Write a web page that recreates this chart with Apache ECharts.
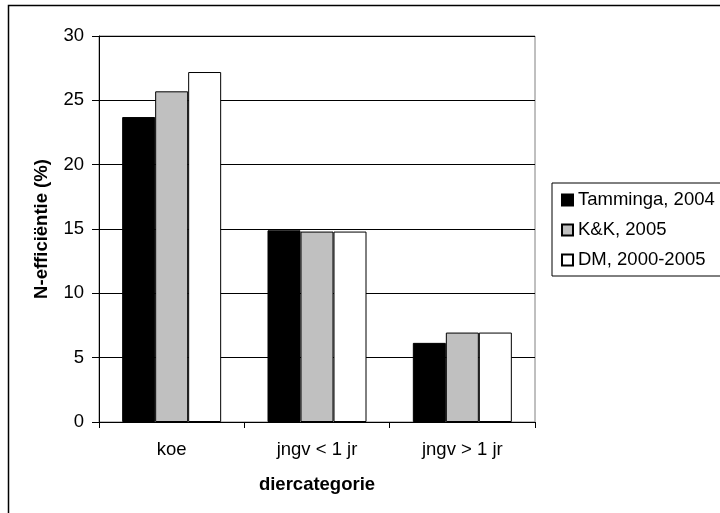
<!DOCTYPE html>
<html>
<head>
<meta charset="utf-8">
<script src="https://cdn.jsdelivr.net/npm/echarts@6/dist/echarts.min.js"></script>
<style>html,body{margin:0;padding:0;background:#fff}#c{width:720px;height:513px}</style>
</head>
<body>
<div id="c"></div>
<script>
const categories = ['koe', 'jngv < 1 jr', 'jngv > 1 jr'];
const seriesNames = ['Tamminga, 2004', 'K&K, 2005', 'DM, 2000-2005'];
const tamminga = [23.7, 14.9, 6.15];
const kk = [25.7, 14.8, 6.95];
const dm = [27.2, 14.8, 6.95];
const yTicks = { min: 0, max: 30, interval: 5 };
const yTitle = 'N-efficiëntie (%)';
const xTitle = 'diercategorie';

const FONT = 'Liberation Sans, Arial, sans-serif';
const FS = 18.5;
const colors = ['#000000', '#C0C0C0', '#FFFFFF'];
const values = [tamminga, kk, dm];

const chart = echarts.init(document.getElementById('c'), null, { renderer: 'canvas' });
chart.setOption({
  animation: false,
  backgroundColor: '#fff',
  textStyle: { fontFamily: FONT, color: '#000' },
  grid: { left: 99, top: 36, width: 436, height: 386, show: true, borderColor: '#808080', borderWidth: 1, backgroundColor: 'transparent' },
  legend: {
    orient: 'vertical', left: 552, top: 183,
    itemWidth: 11, itemHeight: 11, itemGap: 10,
    padding: [7, 30, 6, 9],
    borderColor: '#000', borderWidth: 1,
    icon: 'rect',
    textStyle: { fontFamily: FONT, fontSize: FS, color: '#000', lineHeight: 20 },
    data: seriesNames
  },
  xAxis: {
    type: 'category', data: categories,
    axisLine: { lineStyle: { color: '#000', width: 1 } },
    axisTick: { show: true, length: 6, lineStyle: { color: '#000' }, alignWithLabel: false },
    axisLabel: { fontFamily: FONT, fontSize: FS, color: '#000', margin: 18 },
    splitLine: { show: false }
  },
  yAxis: {
    type: 'value', min: yTicks.min, max: yTicks.max, interval: yTicks.interval,
    axisLine: { show: true, lineStyle: { color: '#000', width: 1 } },
    axisTick: { show: true, length: 7, inside: false, lineStyle: { color: '#000' } },
    axisLabel: { fontFamily: FONT, fontSize: FS, color: '#000', margin: 15 },
    splitLine: { show: true, lineStyle: { color: '#000', width: 1 } }
  },
  series: values.map((v, i) => ({
    name: seriesNames[i], type: 'bar', data: v,
    barWidth: 33, barGap: '0%',
    itemStyle: { color: colors[i], borderColor: '#000', borderWidth: 1 }
  })),
  graphic: [
    { type: 'rect', shape: { x: 8.5, y: 5.5, width: 800, height: 600 }, style: { fill: 'none', stroke: '#000', lineWidth: 1.5 }, silent: true },
    { type: 'text', x: 42, y: 229, rotation: Math.PI / 2, style: { text: yTitle, font: 'bold ' + FS + 'px ' + FONT, fill: '#000', textAlign: 'center', textVerticalAlign: 'middle' } },
    { type: 'text', x: 317, y: 485, style: { text: xTitle, font: 'bold ' + FS + 'px ' + FONT, fill: '#000', textAlign: 'center', textVerticalAlign: 'middle' } }
  ]
});
</script>
</body>
</html>
